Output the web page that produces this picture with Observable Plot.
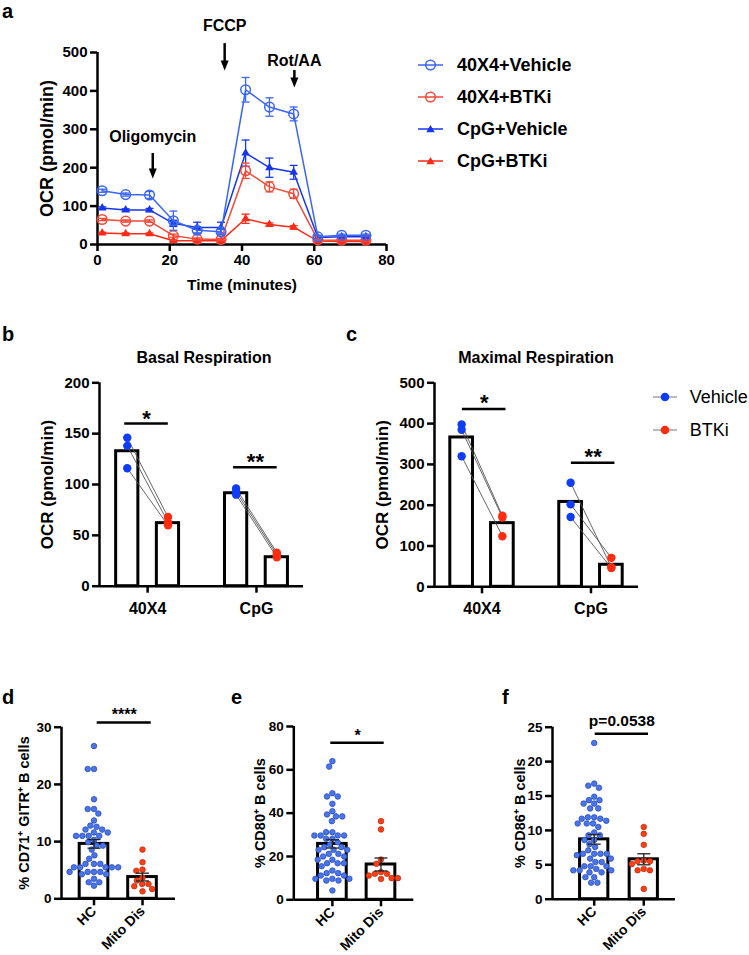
<!DOCTYPE html>
<html><head><meta charset="utf-8">
<script src="https://cdn.jsdelivr.net/npm/d3@7"></script>
<script src="https://cdn.jsdelivr.net/npm/@observablehq/plot@0.6"></script>
<style>
body{margin:0;background:#fff;}
#fig{position:relative;width:749px;height:955px;background:#fff;font-family:'Liberation Sans',Arial,Helvetica,sans-serif;color:#000;overflow:hidden;}
.abs{position:absolute;}
.letter{font-weight:bold;font-size:20px;line-height:20px;}
.ptitle{font-weight:bold;font-size:16px;transform:translate(-50%,-50%);white-space:nowrap;}
.leg{display:flex;align-items:center;white-space:nowrap;height:22px;}
</style></head><body><div id="fig"></div>
<script>
// ---------------- Panel a data ----------------
const timeMin = [1.3, 7.8, 14.4, 21.0, 27.6, 34.2, 41.0, 47.6, 54.3, 61.0, 67.6, 74.3];
const ocr40X4Vehicle = [140, 130, 129, 62, 37, 33, 403, 358, 340, 20, 24, 24];
const sem40X4Vehicle = [4, 4, 9, 25, 9, 7, 32, 24, 18, 4, 3, 3];
const ocr40X4BTKi = [65, 61, 61, 23, 14, 13, 192, 150, 132, 12, 11, 11];
const sem40X4BTKi = [3, 3, 3, 4, 3, 3, 20, 13, 12, 2, 2, 2];
const ocrCpGVehicle = [95, 90, 90, 55, 44, 44, 238, 200, 188, 18, 20, 20];
const semCpGVehicle = [3, 3, 4, 8, 14, 14, 34, 25, 18, 3, 3, 3];
const ocrCpGBTKi = [30, 28, 28, 10, 10, 10, 67, 52, 45, 9, 8, 8];
const semCpGBTKi = [2, 2, 2, 2, 2, 2, 12, 4, 4, 2, 2, 2];
const seriesNames = ["40X4+Vehicle", "40X4+BTKi", "CpG+Vehicle", "CpG+BTKi"];
const seriesColors = ["#3a66f4", "#f24a38", "#1636ee", "#fd2a15"];
const seriesOpen = [true, true, false, false];
const injections = ["Oligomycin", "FCCP", "Rot/AA"];
const injectionTime = [15.3, 35.2, 54.5];
const injectionLabelOCR = [279, 570, 479];
const injectionArrowTop = [237, 523, 453];
const injectionArrowTip = [172, 453, 409];
const ticksAx = [0, 20, 40, 60, 80];
const ticksAy = [0, 100, 200, 300, 400, 500];

// ---------------- Panels b, c data ----------------
const respGroups = ["40X4", "CpG"];
const respTreatments = ["Vehicle", "BTKi"];
const basalVehicle40X4 = [146, 138, 116];
const basalBTKi40X4 = [68, 63, 60];
const basalVehicleCpG = [96, 93, 90];
const basalBTKiCpG = [33, 31, 28.5];
const basalMeans = [132.7, 62, 91.4, 28.5];
const basalSig = ["*", "**"];
const basalSigLevel = [160, 117];
const basalTicks = [0, 50, 100, 150, 200];
const maxVehicle40X4 = [398, 385, 320];
const maxBTKi40X4 = [174, 170, 124];
const maxVehicleCpG = [255, 202, 171];
const maxBTKiCpG = [48, 71, 46];
const maxMeans = [366, 156, 208, 54];
const maxSig = ["*", "**"];
const maxSigLevel = [436, 304];
const maxTicks = [0, 100, 200, 300, 400, 500];

// ---------------- Panels d, e, f data ----------------
const cohortLabels = ["HC", "Mito Dis"];
const cd71HC = [26.7, 22.7, 22.7, 17.4, 15.7, 15.7, 14.9, 13.7, 12.8, 12.6, 12.1, 12.1, 11.6, 11.6, 11.0, 11.0, 11.0, 11.0, 10.3, 9.9, 9.3, 9.3, 8.6, 7.6, 7.0, 6.1, 6.1, 6.1, 5.5, 5.5, 5.5, 5.5, 5.5, 4.7, 4.7, 4.7, 4.7, 4.3, 4.3, 3.5, 2.9, 2.9, 2.3];
const cd71Mito = [8.6, 6.4, 5.1, 4.9, 3.7, 3.2, 2.6, 2.6, 2.2, 1.7, 1.3];
const cd71Mean = [9.6, 3.8];
const cd71Sem = [0.75, 0.68];
const cd71Ticks = [0, 10, 20, 30];
const cd80HC = [64, 61.5, 49.2, 47.7, 47.7, 44.3, 40.9, 39.4, 38.5, 38.5, 36.3, 31.2, 31.2, 29.7, 29.7, 29.7, 29.7, 28.2, 28.2, 26.6, 25.5, 24.3, 24.3, 23.1, 23.1, 23.1, 21.2, 21.2, 20, 20, 18.5, 18.5, 16.9, 16.9, 16.9, 15.5, 13.5, 12.3, 12.3, 11.2, 11.2, 9.7, 9.7, 9.7, 8.9, 8.9, 4.3];
const cd80Mito = [36.3, 32.5, 18.6, 16.6, 12.8, 12.0, 12.0, 11.2, 10.0, 10.0, 9.6];
const cd80Mean = [25.8, 16.3];
const cd80Sem = [1.9, 3.0];
const cd80Ticks = [0, 20, 40, 60, 80];
const cd86HC = [22.7, 16.8, 16.5, 16.2, 14.9, 14.4, 14.4, 13.9, 13.9, 13.2, 13.2, 11.9, 11.9, 11.7, 11.7, 11.4, 11.0, 11.0, 11.0, 10.5, 9.7, 9.3, 9.3, 8.6, 8.6, 8.0, 7.6, 7.1, 6.6, 6.6, 6.6, 6.6, 6.4, 5.9, 5.9, 5.4, 5.4, 4.8, 4.8, 4.8, 4.4, 4.2, 4.2, 4.2, 3.9, 3.9, 3.2, 3.2, 2.4, 2.4];
const cd86Mito = [10.5, 9.5, 7.9, 5.6, 5.5, 5.5, 5.1, 4.4, 4.2, 4.2, 1.5];
const cd86Mean = [8.7, 5.8];
const cd86Sem = [0.7, 0.8];
const cd86Ticks = [0, 5, 10, 15, 20, 25];

// ---------------- helpers ----------------
const FONT = "'Liberation Sans', Arial, Helvetica, sans-serif";
const fig = document.getElementById("fig");
const capSym = {draw(ctx, size) { const r = Math.sqrt(size / Math.PI); ctx.moveTo(-r, 0); ctx.lineTo(r, 0); }};
const headSym = {draw(ctx, size) { const r = Math.sqrt(size / Math.PI); ctx.moveTo(-r, -2.5 * r); ctx.lineTo(r, -2.5 * r); ctx.lineTo(0, 0); ctx.closePath(); }};

function put(el, left, top) { el.style.position = "absolute"; el.style.left = left + "px"; el.style.top = top + "px"; fig.appendChild(el); return el; }
function html(cls, text, left, top) { const d = document.createElement("div"); d.className = "abs " + cls; d.textContent = text; return put(d, left, top); }

function axes(x0, xTicks, yTicks, o = {}) {
  return [
    Plot.axisY({ticks: yTicks, tickSize: 7, tickPadding: 3, strokeWidth: 2.5, fontSize: o.fy ?? 15, fontWeight: "bold", label: null, tickFormat: d => String(d)}),
    Plot.axisX({ticks: xTicks, tickSize: 7, tickPadding: o.xPad ?? 3, strokeWidth: 2.5, fontSize: o.fx ?? 15, fontWeight: "bold", label: null, tickFormat: o.xFormat ?? (d => String(d)), tickRotate: o.rot ?? 0}),
    Plot.ruleX([x0], {strokeWidth: 2.5}),
    Plot.ruleY([0], {strokeWidth: 2.5})
  ];
}
function yTitle(text, dx, fs) {
  return Plot.text([text], {text: d => d, frameAnchor: "left", dx, rotate: -90, textAnchor: "middle", lineAnchor: "middle", fontSize: fs, fontWeight: "bold"});
}
const baseStyle = {fontFamily: FONT, overflow: "visible", background: "transparent", color: "black"};

// ---------------- Panel a ----------------
(function () {
  const vals = [ocr40X4Vehicle, ocr40X4BTKi, ocrCpGVehicle, ocrCpGBTKi];
  const sems = [sem40X4Vehicle, sem40X4BTKi, semCpGVehicle, semCpGBTKi];
  const marks = [];
  const drawOrder = [2, 3, 1, 0];
  for (const k of drawOrder) {
    const rows = timeMin.map((t, i) => ({t, v: vals[k][i], e: sems[k][i]}));
    const c = seriesColors[k];
    marks.push(Plot.line(rows, {x: "t", y: "v", stroke: c, strokeWidth: 1.5}));
    marks.push(Plot.ruleX(rows, {x: "t", y1: d => d.v - d.e, y2: d => d.v + d.e, stroke: c, strokeWidth: 1.3}));
    marks.push(Plot.dot(rows, {x: "t", y: d => d.v + d.e, symbol: capSym, r: 4, stroke: c, fill: "none", strokeWidth: 1.3}));
    marks.push(Plot.dot(rows, {x: "t", y: d => d.v - d.e, symbol: capSym, r: 4, stroke: c, fill: "none", strokeWidth: 1.3}));
    if (seriesOpen[k]) marks.push(Plot.dot(rows, {x: "t", y: "v", symbol: "circle", r: 4.8, stroke: c, fill: "none", strokeWidth: 1.5}));
    else marks.push(Plot.dot(rows, {x: "t", y: "v", symbol: "triangle", r: 3.2, fill: c, stroke: "none"}));
  }
  const inj = injections.map((_, i) => i);
  const svg = Plot.plot({
    width: 400, height: 300, marginLeft: 97, marginRight: 14, marginTop: 52, marginBottom: 56,
    x: {domain: [0, 80]}, y: {domain: [0, 500]}, style: baseStyle,
    marks: [
      ...axes(0, ticksAx, ticksAy, {fy: 15, fx: 15}),
      yTitle("OCR (pmol/min)", -50, 18),
      Plot.text(["Time (minutes)"], {text: d => d, frameAnchor: "bottom", dy: 41, lineAnchor: "middle", fontSize: 15.5, fontWeight: "bold"}),
      ...marks,
      Plot.ruleX(inj, {x: i => injectionTime[i], y1: i => injectionArrowTop[i], y2: i => injectionArrowTip[i] + 12, strokeWidth: 2.5}),
      Plot.dot(inj, {x: i => injectionTime[i], y: i => injectionArrowTip[i], symbol: headSym, r: 4, fill: "black", stroke: "none"}),
      Plot.text(inj, {x: i => injectionTime[i], y: i => injectionLabelOCR[i], text: i => injections[i], fontSize: 16, fontWeight: "bold", lineAnchor: "middle"})
    ]
  });
  put(svg, 0, 0);
  // legend
  seriesNames.forEach((name, k) => {
    const row = document.createElement("div");
    row.className = "leg";
    const c = seriesColors[k];
    const sym = seriesOpen[k]
      ? `<circle cx="12.5" cy="11" r="4.8" fill="none" stroke="${c}" stroke-width="1.5"/>`
      : `<path d="M12.5,7 L16.7,14.3 L8.3,14.3 Z" fill="${c}"/>`;
    row.innerHTML = `<svg width="25" height="22"><line x1="0" x2="25" y1="11" y2="11" stroke="${c}" stroke-width="1.5"/>${sym}</svg><span style="margin-left:14px;font-weight:bold;font-size:18px;">${name}</span>`;
    put(row, 418, 54 + k * 32);
  });
})();

// ---------------- Panels b, c ----------------
function respPanel(cfg) {
  const off = 0.187, hw = cfg.hw;
  const pos = (g, t) => g + (t ? off : -off);
  const bars = [0, 1].flatMap(g => [0, 1].map(t => ({g, t, m: cfg.means[g * 2 + t]})));
  const dots = [], links = [];
  [0, 1].forEach(g => {
    const veh = cfg.veh[g], btk = cfg.btk[g];
    veh.forEach((v, i) => {
      dots.push({x: pos(g, 0), y: v, t: 0});
      dots.push({x: pos(g, 1), y: btk[i], t: 1});
      links.push({x1: pos(g, 0), y1: v, x2: pos(g, 1), y2: btk[i]});
    });
  });
  const sig = [0, 1].map(g => ({g, label: cfg.sig[g], y: cfg.sigLevel[g]}));
  const svg = Plot.plot({
    width: cfg.width, height: 300, marginLeft: cfg.ml, marginRight: cfg.mr, marginTop: 52.3, marginBottom: cfg.mb,
    x: {domain: cfg.xd}, y: {domain: [0, cfg.ymax]}, style: baseStyle,
    marks: [
      Plot.rect(bars, {x1: d => pos(d.g, d.t) - hw, x2: d => pos(d.g, d.t) + hw, y1: d => 0, y2: "m", fill: "white", stroke: "black", strokeWidth: 3}),
      ...axes(cfg.xd[0], [0, 1], cfg.ticks, {fy: 15, fx: 16, xPad: 9, xFormat: i => respGroups[i]}),
      yTitle("OCR (pmol/min)", cfg.titleDx, 17),
      Plot.link(links, {x1: "x1", y1: "y1", x2: "x2", y2: "y2", stroke: "#555", strokeWidth: 0.9}),
      Plot.dot(dots, {x: "x", y: "y", r: 4.2, fill: d => d.t ? "#ff2c0f" : "#0f3cf7", stroke: "none"}),
      Plot.ruleY(sig, {y: "y", x1: d => d.g + cfg.sigShift - 0.2, x2: d => d.g + cfg.sigShift + 0.2, strokeWidth: 2.5}),
      Plot.text(sig, {x: d => d.g + cfg.sigShift, y: "y", text: "label", fontSize: 22, fontWeight: "bold", lineAnchor: "middle", dy: cfg.sigDy})
    ]
  });
  put(svg, cfg.left, 330);
}
respPanel({left: 0, width: 340, ml: 99, mr: 37, mb: 44.3, xd: [-0.442, 1.432], ymax: 200, ticks: basalTicks, hw: 0.102,
  means: basalMeans, veh: [basalVehicle40X4, basalVehicleCpG], btk: [basalBTKi40X4, basalBTKiCpG],
  sig: basalSig, sigLevel: basalSigLevel, sigShift: -0.01, sigDy: -5, titleDx: -52});
respPanel({left: 340, width: 409, ml: 94, mr: 111, mb: 43.7, xd: [-0.436, 1.436], ymax: 500, ticks: maxTicks, hw: 0.104,
  means: maxMeans, veh: [maxVehicle40X4, maxVehicleCpG], btk: [maxBTKi40X4, maxBTKiCpG],
  sig: maxSig, sigLevel: maxSigLevel, sigShift: 0.02, sigDy: -6, titleDx: -52});

html("ptitle", "Basal Respiration", 204, 358);
html("ptitle", "Maximal Respiration", 536, 358);
// legend c
respTreatments.forEach((name, k) => {
  const row = document.createElement("div");
  row.className = "leg";
  const c = k ? "#ff2c0f" : "#0f3cf7";
  row.innerHTML = `<svg width="24" height="22"><line x1="0" x2="24" y1="11" y2="11" stroke="#777" stroke-width="1"/><circle cx="12" cy="11" r="4.3" fill="${c}"/></svg><span style="margin-left:13px;font-size:18px;">${name}</span>`;
  put(row, 652.7, 386.3 + k * 32.7);
});

// ---------------- Panels d, e, f ----------------
function swarmOffsets(values, pxY, pxX, r, gap) {
  const d = 2 * r + gap;
  const idx = values.map((_, i) => i).sort((a, b) => values[b] - values[a]);
  const placed = [], out = new Array(values.length).fill(0);
  for (const i of idx) {
    const y = values[i] * pxY;
    const cands = [0];
    for (const p of placed) {
      const dy = Math.abs(p.y - y);
      if (dy < d) { const w = Math.sqrt(d * d - dy * dy); cands.push(p.x + w, p.x - w); }
    }
    cands.sort((a, b) => Math.abs(a) - Math.abs(b) || a - b);
    for (const c of cands) {
      if (placed.every(p => (p.x - c) ** 2 + (p.y - y) ** 2 >= d * d - 1e-6)) { out[i] = c; placed.push({x: c, y}); break; }
    }
  }
  return out.map(x => x / pxX);
}
function scatterPanel(cfg) {
  const H = 265, W = cfg.width;
  const pxY = (H - cfg.mt - cfg.mb) / cfg.ymax;
  const pxX = (W - cfg.ml - cfg.mr) / (cfg.xd[1] - cfg.xd[0]);
  const rows = [];
  [cfg.hc, cfg.mito].forEach((vals, g) => {
    const offs = swarmOffsets(vals, pxY, pxX, 2.8, 0.7);
    vals.forEach((v, i) => rows.push({x: g + 1 + offs[i], y: v, g}));
  });
  const stats = [0, 1].map(g => ({x: g + 1, m: cfg.mean[g], lo: cfg.mean[g] - cfg.sem[g], hi: cfg.mean[g] + cfg.sem[g]}));
  const svg = Plot.plot({
    width: W, height: H, marginLeft: cfg.ml, marginRight: cfg.mr, marginTop: cfg.mt, marginBottom: cfg.mb,
    x: {domain: cfg.xd}, y: {domain: [0, cfg.ymax]}, style: baseStyle,
    marks: [
      Plot.rect(stats, {x1: d => d.x - cfg.hw, x2: d => d.x + cfg.hw, y1: d => 0, y2: "m", fill: "white", stroke: "black", strokeWidth: 3}),
      ...axes(cfg.xd[0], [1, 2], cfg.ticks, {fy: 13.5, fx: 14, rot: -45, xFormat: i => cohortLabels[i - 1]}),
      yTitle(cfg.title, cfg.titleDx, 14.5),
      Plot.dot(rows, {x: "x", y: "y", r: 2.8, fill: d => d.g ? "#ff3d12" : "#4a74ea", stroke: d => d.g ? "#b82a0a" : "#2447b8", strokeWidth: 0.7}),
      Plot.ruleX(stats, {x: "x", y1: "lo", y2: "hi", stroke: "#222", strokeWidth: 1.3}),
      Plot.dot(stats, {x: "x", y: "hi", symbol: capSym, r: 6.5, stroke: "#222", fill: "none", strokeWidth: 1.3}),
      Plot.dot(stats, {x: "x", y: "lo", symbol: capSym, r: 6.5, stroke: "#222", fill: "none", strokeWidth: 1.3}),
      Plot.ruleY([cfg.sig], {y: "y", x1: "x1", x2: "x2", strokeWidth: 2.5}),
      Plot.text([cfg.sig], {x: d => (d.x1 + d.x2) / 2, y: "y", text: "label", fontSize: cfg.sig.fs, fontWeight: "bold", lineAnchor: "middle", dy: cfg.sig.dy})
    ]
  });
  put(svg, cfg.left, 690);
}
scatterPanel({left: 0, width: 250, ml: 61, mr: 75, mt: 36.7, mb: 56.7, xd: [0.33, 2.68], ymax: 30, ticks: cd71Ticks, hw: 0.295,
  hc: cd71HC, mito: cd71Mito, mean: cd71Mean, sem: cd71Sem, title: "% CD71⁺ GITR⁺ B cells", titleDx: -37,
  sig: {x1: 1.066, x2: 2.18, y: 30.8, label: "****", fs: 16, dy: -7.5}});
scatterPanel({left: 250, width: 250, ml: 43.3, mr: 86.7, mt: 36, mb: 55.7, xd: [0.206, 2.675], ymax: 80, ticks: cd80Ticks, hw: 0.295,
  hc: cd80HC, mito: cd80Mito, mean: cd80Mean, sem: cd80Sem, title: "% CD80⁺ B cells", titleDx: -33.5,
  sig: {x1: 0.967, x2: 2.066, y: 72.5, label: "*", fs: 16, dy: -6.5}});
scatterPanel({left: 500, width: 249, ml: 52, mr: 74, mt: 36.7, mb: 56.3, xd: [0.159, 2.64], ymax: 25, ticks: cd86Ticks, hw: 0.285,
  hc: cd86HC, mito: cd86Mito, mean: cd86Mean, sem: cd86Sem, title: "% CD86⁺ B cells", titleDx: -32,
  sig: {x1: 1.02, x2: 2.095, y: 24.04, label: "p=0.0538", fs: 15.5, dy: -12.6}});

// panel letters
html("letter", "a", 2, 1);
html("letter", "b", 2, 324);
html("letter", "c", 346, 324);
html("letter", "d", 2, 687);
html("letter", "e", 231, 687);
html("letter", "f", 502, 687);
</script></body></html>
